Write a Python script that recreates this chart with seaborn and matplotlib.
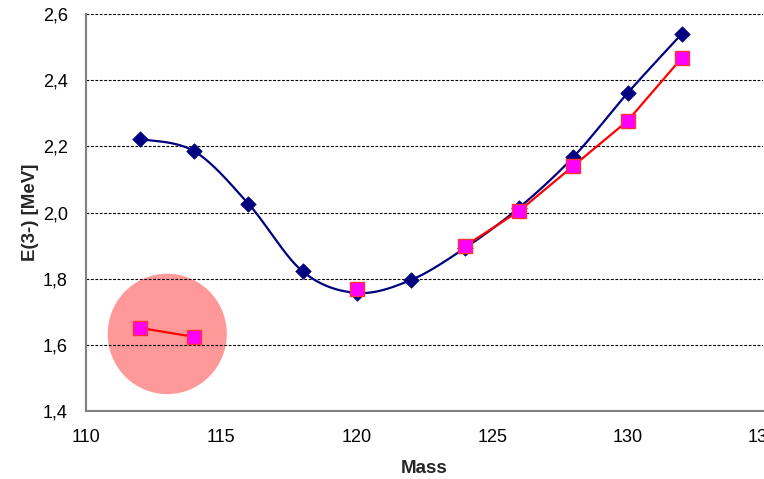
import numpy as np
import matplotlib
matplotlib.use("Agg")
import matplotlib.pyplot as plt
import seaborn as sns
from matplotlib.patches import Ellipse
from matplotlib.ticker import FuncFormatter

# ---- data ----
mass_blue = [112, 114, 116, 118, 120, 122, 124, 126, 128, 130, 132]
e3_blue = [2.222, 2.185, 2.026, 1.822, 1.757, 1.796, 1.893, 2.015, 2.168, 2.361, 2.540]

mass_red_a = [112, 114]
e3_red_a = [1.651, 1.624]
mass_red_b = [120]
e3_red_b = [1.769]
mass_red_c = [124, 126, 128, 130, 132]
e3_red_c = [1.899, 2.005, 2.141, 2.277, 2.467]

circle_center = (113.0, 1.633)
x_ticks = [110, 115, 120, 125, 130, 135]
y_ticks = [1.4, 1.6, 1.8, 2.0, 2.2, 2.4, 2.6]

sns.set_style("white")
plt.rcParams['font.family'] = ['Liberation Sans', 'DejaVu Sans']

fig = plt.figure(figsize=(7.64, 4.79), dpi=100)
ax = fig.add_axes([86/764, 1-411/479, (763-86)/764, (411-14)/479])


def smooth(xs, ys, n=30):
    # Excel-style smoothed line (cubic Bezier through the points)
    xs = np.asarray(xs, float)
    ys = np.asarray(ys, float)
    P = np.column_stack([xs, ys])
    out = []
    m = len(P)
    for i in range(m - 1):
        p0 = P[i - 1] if i > 0 else P[i]
        p1 = P[i]
        p2 = P[i + 1]
        p3 = P[i + 2] if i + 2 < m else P[i + 1]
        c1 = p1 + (p2 - p0) / 6.0
        c2 = p2 - (p3 - p1) / 6.0
        t = np.linspace(0, 1, n)[:, None]
        seg = ((1 - t) ** 3) * p1 + 3 * ((1 - t) ** 2) * t * c1 + 3 * (1 - t) * t ** 2 * c2 + t ** 3 * p2
        out.append(seg if i == 0 else seg[1:])
    return np.vstack(out)


# highlight circle
ax.add_patch(Ellipse(circle_center, width=4.4, height=0.364, facecolor="#FF9999",
                     edgecolor="none", zorder=1))

# grid
for yv in y_ticks[1:]:
    ax.axhline(yv, color="black", lw=0.8, ls=(0, (2.5, 1.5)), zorder=2)

# blue smoothed line
curve = smooth(mass_blue, e3_blue)
ax.plot(curve[:, 0], curve[:, 1], color="#000080", lw=1.6, zorder=3)
sns.scatterplot(x=mass_blue, y=e3_blue, marker="D", s=62, color="#000080",
                edgecolor="#000080", linewidth=0.5, ax=ax, zorder=4)

# red series
for xs, ys in [(mass_red_a, e3_red_a), (mass_red_c, e3_red_c)]:
    sns.lineplot(x=xs, y=ys, color="#FF0000", lw=1.6, ax=ax, zorder=5, sort=False)
for xs, ys in [(mass_red_a, e3_red_a), (mass_red_b, e3_red_b), (mass_red_c, e3_red_c)]:
    sns.scatterplot(x=xs, y=ys, marker="s", s=95, color="#FF00FF",
                    edgecolor="#FF3333", linewidth=1.0, ax=ax, zorder=6)

ax.set_xlim(110, 135)
ax.set_ylim(1.4, 2.6)
ax.set_xticks(x_ticks)
ax.set_yticks(y_ticks)
ax.yaxis.set_major_formatter(FuncFormatter(lambda v, p: f"{v:.1f}".replace(".", ",")))
ax.xaxis.set_major_formatter(FuncFormatter(lambda v, p: f"{v:.0f}"))

for s in ["top", "right"]:
    ax.spines[s].set_visible(False)
for s in ["left", "bottom"]:
    ax.spines[s].set_color("#808080")
    ax.spines[s].set_linewidth(1.5)

ax.tick_params(axis="both", which="both", direction="out", length=5, width=1,
               color="#808080", labelsize=13, labelcolor="black")
ax.tick_params(axis="x", pad=8)
ax.tick_params(axis="y", pad=8)

ax.set_xlabel("Mass", fontsize=13.5, fontweight="bold", labelpad=10)
ax.set_ylabel("E(3-) [MeV]", fontsize=13.5, fontweight="bold", labelpad=3)

fig.savefig("out.png", dpi=100)
